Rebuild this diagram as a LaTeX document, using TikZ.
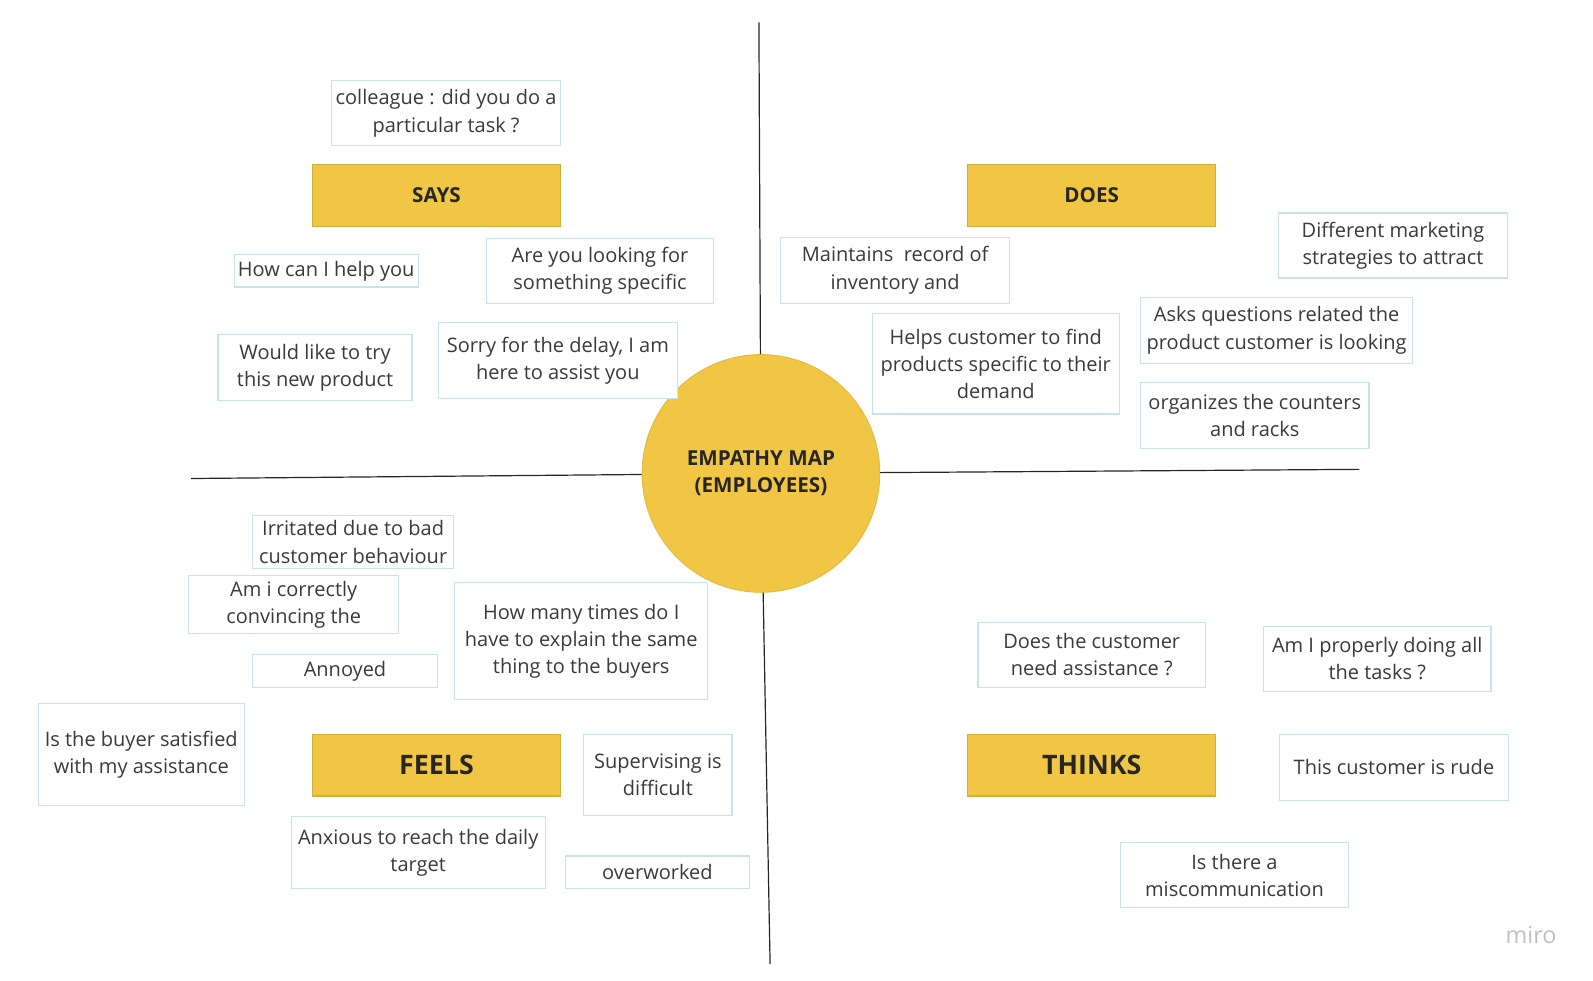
\documentclass[tikz,border=0pt]{standalone}
\usepackage{fontspec}
\setmainfont{Open Sans}
\newlength{\px}
\setlength{\px}{0.508pt}
\definecolor{mapyellow}{HTML}{F1C644}
\definecolor{mapedge}{HTML}{D2AE3C}
\definecolor{noteedge}{HTML}{C9E3E8}
\definecolor{notetext}{HTML}{3A3A3A}

\begin{document}
\begin{tikzpicture}[x=\px, y=-\px,
    note/.style={draw=noteedge, line width=0.6pt, fill=white, anchor=north west, align=center, inner sep=0pt,
        text=notetext, font=\fontsize{10}{13.6}\selectfont},
    head/.style={draw=mapedge, line width=0.6pt, fill=mapyellow, anchor=north west, inner sep=0pt,
        minimum width=244\px, minimum height=61\px, text=black!85, font=\bfseries\fontsize{10.3}{12}\selectfont},
    bighead/.style={head, font=\bfseries\fontsize{13.4}{16}\selectfont},
    axis/.style={draw=black!85, line width=0.6pt}]
    \useasboundingbox (0,0) rectangle (1568,965);

    % Center
    \node[circle, fill=mapyellow, draw=mapedge!60!mapyellow, minimum size=234\px, inner sep=0pt, align=center,
        text=black!85, font=\bfseries\fontsize{10.3}{13.6}\selectfont] (map) at (749,466) {EMPATHY MAP\\(EMPLOYEES)};

    % Axes
    \coordinate (ax-top) at (747,22);
    \coordinate (ax-bottom) at (758,949);
    \coordinate (ax-left) at (188,471);
    \coordinate (ax-right) at (1338,462);
    \draw[axis] (ax-top) -- (map);
    \draw[axis] (map) -- (ax-bottom);
    \draw[axis] (ax-left) -- (map);
    \draw[axis] (map) -- (ax-right);

    % Says
    \node[head] (says) at (307,161) {SAYS};
    \node[note, minimum width=225\px, minimum height=64\px] (says-1) at (326,79) {colleague : did you do a\\particular task ?};
    \node[note, minimum width=181\px, minimum height=32\px] (says-2) at (230,250) {How can I help you};
    \node[note, minimum width=224\px, minimum height=64\px] (says-3) at (478,234) {Are you looking for\\something specific};
    \node[note, minimum width=191\px, minimum height=65\px] (says-4) at (214,329) {Would like to try\\this new product};
    \node[note, minimum width=235\px, minimum height=75\px] (says-5) at (431,317) {Sorry for the delay, I am\\here to assist you};

    % Does
    \node[head] (does) at (952,161) {DOES};
    \node[note, minimum width=225\px, minimum height=65\px] (does-1) at (768,233) {Maintains\ \ record of\\inventory and};
    \node[note, minimum width=243\px, minimum height=99\px] (does-2) at (858,308) {Helps customer to find\\products specific to their\\demand};
    \node[note, minimum width=225\px, minimum height=64\px] (does-3) at (1258,209) {Different marketing\\strategies to attract};
    \node[note, minimum width=268\px, minimum height=65\px] (does-4) at (1122,292) {Asks questions related the\\product customer is looking};
    \node[note, minimum width=225\px, minimum height=65\px] (does-5) at (1122,376) {organizes the counters\\and racks};

    % Feels
    \node[bighead] (feels) at (307,722) {FEELS};
    \node[note, minimum width=198\px, minimum height=52\px] (feels-1) at (248,507) {Irritated due to bad\\customer behaviour};
    \node[note, minimum width=207\px, minimum height=57\px] (feels-2) at (185,566) {Am i correctly\\convincing the};
    \node[note, minimum width=182\px, minimum height=32\px] (feels-3) at (248,644) {Annoyed};
    \node[note, minimum width=249\px, minimum height=115\px] (feels-4) at (447,573) {How many times do I\\have to explain the same\\thing to the buyers};
    \node[note, minimum width=203\px, minimum height=100\px] (feels-5) at (37,692) {Is the buyer satisfied\\with my assistance};
    \node[note, minimum width=146\px, minimum height=80\px] (feels-6) at (574,722) {Supervising is\\difficult};
    \node[note, minimum width=250\px, minimum height=71\px] (feels-7) at (286,803) {Anxious to reach the daily\\target};
    \node[note, minimum width=181\px, minimum height=32\px] (feels-8) at (556,842) {overworked};

    % Thinks
    \node[bighead] (thinks) at (952,722) {THINKS};
    \node[note, minimum width=224\px, minimum height=64\px] (thinks-1) at (962,612) {Does the customer\\need assistance ?};
    \node[note, minimum width=224\px, minimum height=64\px] (thinks-2) at (1243,616) {Am I properly doing all\\the tasks ?};
    \node[note, minimum width=225\px, minimum height=65\px] (thinks-3) at (1259,722) {This customer is rude};
    \node[note, minimum width=225\px, minimum height=64\px] (thinks-4) at (1102,829) {Is there a\\miscommunication};

    % Watermark
    \node[text=black!25, font=\fontsize{11.7}{13}\selectfont] (miro) at (1507,920) {miro};
\end{tikzpicture}
\end{document}
